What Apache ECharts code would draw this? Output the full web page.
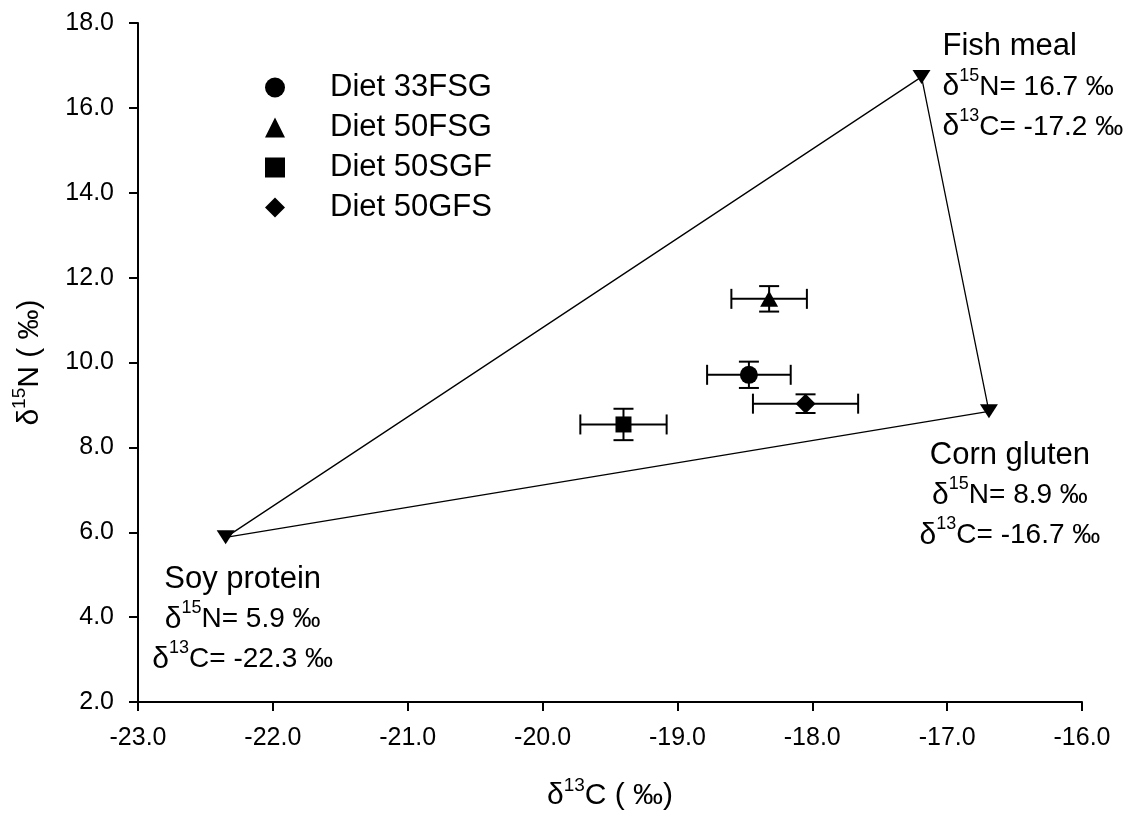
<!DOCTYPE html>
<html>
<head>
<meta charset="utf-8">
<script src="https://cdn.jsdelivr.net/npm/echarts@6/dist/echarts.min.js"></script>
<style>
html,body{margin:0;padding:0;background:#fff;}
#chart{width:1123px;height:820px;}
</style>
</head>
<body>
<div id="chart"></div>
<script>
// ---- Data ----
const diets = ['Diet 33FSG', 'Diet 50FSG', 'Diet 50SGF', 'Diet 50GFS'];
const dietSymbols = ['circle', 'triangle', 'rect', 'diamond'];
const dietX = [-18.47, -18.32, -19.40, -18.05];
const dietY = [9.71, 11.50, 8.54, 9.03];
const dietXErr = [0.31, 0.28, 0.32, 0.39];
const dietYErr = [0.31, 0.30, 0.37, 0.22];

const sources = ['Soy protein', 'Fish meal', 'Corn gluten'];
const sourceX = [-22.35, -17.19, -16.69];
const sourceY = [5.88, 16.73, 8.85];
const sourceN = ['5.9', '16.7', '8.9'];
const sourceC = ['-22.3', '-17.2', '-16.7'];
const polygonOrder = [0, 1, 2, 0];

const xTicks = { min: -23, max: -16, interval: 1 };
const yTicks = { min: 2, max: 18, interval: 2 };

// ---- Styles ----
const FONT = '"Liberation Sans", Arial, Helvetica, sans-serif';
const symSizes = { circle: 18, triangle: [18, 16], rect: 16, diamond: 20 };
const richBase = {
  h: { fontSize: 31, fontFamily: FONT, color: '#000', lineHeight: 40 },
  m: { fontSize: 28, fontFamily: FONT, color: '#000', lineHeight: 40 },
  d: { fontSize: 30, fontFamily: FONT, color: '#000', lineHeight: 40 },
  s: { fontSize: 18, fontFamily: FONT, color: '#000', lineHeight: 14, verticalAlign: 'top' }
};
const axisRich = {
  m: { fontSize: 30, fontFamily: FONT, color: '#000', lineHeight: 40 },
  s: { fontSize: 19, fontFamily: FONT, color: '#000', lineHeight: 14, verticalAlign: 'top' }
};
const labelOffsets = [
  { align: 'center', offset: [17, 22] },
  { align: 'left', offset: [21, -50] },
  { align: 'center', offset: [21, 24] }
];

function sourceLabel(i) {
  return '{h|' + sources[i] + '}\n' +
    '{d|δ}{s|15}{m|N= ' + sourceN[i] + ' ‰}\n' +
    '{d|δ}{s|13}{m|C= ' + sourceC[i] + ' ‰}';
}

const series = [];

// polygon connecting sources
series.push({
  type: 'line',
  data: polygonOrder.map(i => [sourceX[i], sourceY[i]]),
  showSymbol: false,
  symbol: 'none',
  lineStyle: { color: '#000', width: 1.3, opacity: 1 },
  silent: true,
  z: 2
});

// sources
series.push({
  type: 'scatter',
  data: sources.map((n, i) => ({
    value: [sourceX[i], sourceY[i]],
    label: {
      show: true,
      position: 'inside',
      color: '#000',
      textBorderWidth: 0,
      align: labelOffsets[i].align,
      verticalAlign: 'top',
      offset: labelOffsets[i].offset,
      formatter: sourceLabel(i),
      rich: richBase
    }
  })),
  symbol: 'triangle',
  symbolRotate: 180,
  symbolSize: [18, 14],
  itemStyle: { color: '#000', opacity: 1 },
  z: 4
});

// error bars
series.push({
  type: 'custom',
  data: diets.map((d, i) => [dietX[i], dietY[i], dietXErr[i], dietYErr[i]]),
  renderItem: function (params, api) {
    const x = api.value(0), y = api.value(1), ex = api.value(2), ey = api.value(3);
    const l = api.coord([x - ex, y]);
    const r = api.coord([x + ex, y]);
    const t = api.coord([x, y + ey]);
    const b = api.coord([x, y - ey]);
    const cap = 10;
    const st = { stroke: '#000', lineWidth: 2 };
    const ln = (x1, y1, x2, y2) => ({ type: 'line', shape: { x1, y1, x2, y2 }, style: st });
    return {
      type: 'group',
      children: [
        ln(l[0], l[1], r[0], r[1]),
        ln(t[0], t[1], b[0], b[1]),
        ln(l[0], l[1] - cap, l[0], l[1] + cap),
        ln(r[0], r[1] - cap, r[0], r[1] + cap),
        ln(t[0] - cap, t[1], t[0] + cap, t[1]),
        ln(b[0] - cap, b[1], b[0] + cap, b[1])
      ]
    };
  },
  silent: true,
  z: 3
});

// diets
diets.forEach((name, i) => {
  series.push({
    type: 'scatter',
    name: name,
    data: [[dietX[i], dietY[i]]],
    symbol: dietSymbols[i],
    symbolSize: symSizes[dietSymbols[i]],
    itemStyle: { color: '#000', opacity: 1 },
    z: 5
  });
});

const chart = echarts.init(document.getElementById('chart'), null, { renderer: 'canvas' });
chart.setOption({
  animation: false,
  backgroundColor: '#fff',
  textStyle: { fontFamily: FONT, color: '#000' },
  grid: { left: 138, right: 41, top: 23, bottom: 118, containLabel: false },
  legend: {
    data: diets,
    orient: 'vertical',
    left: 260,
    top: 67,
    itemWidth: 20,
    itemHeight: 20,
    itemGap: 9,
    itemStyle: { opacity: 1 },
    textStyle: { fontSize: 31, fontFamily: FONT, color: '#000', lineHeight: 30, padding: [0, 0, 0, 40] },
    selectedMode: false
  },
  xAxis: {
    type: 'value',
    min: xTicks.min, max: xTicks.max, interval: xTicks.interval,
    splitLine: { show: false },
    axisLine: { show: true, onZero: false, lineStyle: { color: '#000', width: 2 } },
    axisTick: { show: true, length: 9, lineStyle: { color: '#000', width: 2 } },
    axisLabel: { color: '#000', fontSize: 25, fontFamily: FONT, margin: 24, formatter: v => v.toFixed(1) },
    name: '{m|δ}{s|13}{m|C ( ‰)}',
    nameLocation: 'middle',
    nameGap: 74,
    nameTextStyle: { color: '#000', rich: axisRich }
  },
  yAxis: {
    type: 'value',
    min: yTicks.min, max: yTicks.max, interval: yTicks.interval,
    splitLine: { show: false },
    axisLine: { show: true, onZero: false, lineStyle: { color: '#000', width: 2 } },
    axisTick: { show: true, length: 9, lineStyle: { color: '#000', width: 2 } },
    axisLabel: { color: '#000', fontSize: 25, fontFamily: FONT, margin: 24, formatter: v => v.toFixed(1) },
    name: '{m|δ}{s|15}{m|N ( ‰)}',
    nameLocation: 'middle',
    nameGap: 88,
    nameTextStyle: { color: '#000', rich: axisRich }
  },
  series: series
});
</script>
</body>
</html>
